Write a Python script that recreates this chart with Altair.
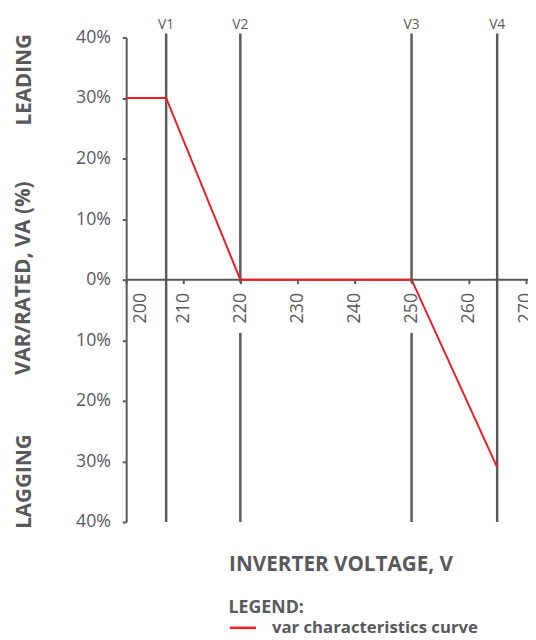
import altair as alt
import pandas as pd

# ---- data ----
volts = [200, 207, 220, 250, 265]
var_pct = [30, 30, 0, 0, -31]
v_names = ["V1", "V2", "V3", "V4"]
v_values = [207, 220, 250, 265]
x_ticks = [200, 210, 220, 230, 240, 250, 260, 270]
y_ticks = [-40, -30, -20, -10, 0, 10, 20, 30, 40]
series_name = ["var characteristics curve"]

GRAY = "#58595b"
RED = "#ed1c24"
FONT = "Open Sans"

W, H = 408, 492

curve = pd.DataFrame({"volt": volts, "var": var_pct, "series": series_name * len(volts)})
vlines = pd.DataFrame({"name": v_names, "v": v_values})
zero = pd.DataFrame({"y": [0]})

xscale = alt.Scale(domain=[200, 270.4], nice=False)
yscale = alt.Scale(domain=[-40, 40], nice=False)

x_axis = alt.Axis(
    values=x_ticks,
    orient="bottom",
    offset=-H / 2,
    domain=False,
    grid=False,
    ticks=True,
    tickSize=4,
    tickWidth=2,
    tickColor=GRAY,
    labelAngle=270,
    labelPadding=9,
    labelFont=FONT,
    labelFontSize=18,
    labelColor=GRAY,
    labelOffset={"condition": {"test": "datum.value == 200", "value": 15}, "value": 0},
    title="INVERTER VOLTAGE, V",
    titleFont=FONT,
    titleFontSize=21,
    titleFontWeight="bold",
    titleColor=GRAY,
    titleAlign="left",
    titleBaseline="middle",
    titleX=104,
    titleY=289,
    zindex=1,
)

y_axis = alt.Axis(
    values=y_ticks,
    labelExpr="abs(datum.value) + '%'",
    domainColor=GRAY,
    domainWidth=2,
    grid=False,
    tickColor=GRAY,
    tickWidth=2,
    tickSize=4,
    labelPadding=12,
    labelFont=FONT,
    labelFontSize=18,
    labelColor=GRAY,
    title="VAR/RATED, VA (%)",
    titleFont=FONT,
    titleFontSize=21,
    titleFontWeight="bold",
    titleColor=GRAY,
    titleAngle=270,
    titleAlign="center",
    titleBaseline="middle",
    titleX=-104,
    titleY=244,
)

# axis-owning layer drawn invisibly first (defines axes)
base_axes = alt.Chart(curve).mark_line(opacity=0).encode(
    x=alt.X("volt:Q", scale=xscale, axis=x_axis),
    y=alt.Y("var:Q", scale=yscale, axis=y_axis),
)

zero_rule = alt.Chart(zero).mark_rule(color=GRAY, strokeWidth=2).encode(
    y=alt.Y("y:Q", scale=yscale)
)

v_rules = alt.Chart(vlines).mark_rule(color=GRAY, strokeWidth=2.5).encode(
    x=alt.X("v:Q", scale=xscale),
    y=alt.value(-4),
    y2=alt.value(H),
)

mask = alt.Chart(vlines).transform_filter("datum.v % 10 == 0").mark_rule(
    color="white", strokeWidth=6
).encode(
    x=alt.X("v:Q", scale=xscale),
    y=alt.value(249),
    y2=alt.value(300),
)

v_labels = alt.Chart(vlines).mark_text(
    font=FONT, fontSize=14, color=GRAY, baseline="middle", align="center"
).encode(
    x=alt.X("v:Q", scale=xscale),
    y=alt.value(-13),
    text="name:N",
)

line = alt.Chart(curve).mark_line(strokeWidth=2).encode(
    x=alt.X("volt:Q", scale=xscale),
    y=alt.Y("var:Q", scale=yscale),
    color=alt.Color(
        "series:N",
        scale=alt.Scale(range=[RED]),
        legend=alt.Legend(
            title="LEGEND:",
            orient="none",
            legendX=104,
            legendY=570,
            symbolType="stroke",
            symbolStrokeWidth=2.5,
            symbolSize=700,
            labelFont=FONT,
            labelFontSize=17,
            labelFontWeight="bold",
            labelColor=GRAY,
            labelOffset=15,
            labelLimit=0,
            titleFont=FONT,
            titleFontSize=18,
            titleFontWeight="bold",
            titleColor=GRAY,
            titlePadding=-3,
        ),
    ),
)

leading = alt.Chart(zero).mark_text(
    font=FONT, fontSize=21, fontWeight="bold", color=GRAY, angle=270,
    align="center", baseline="middle"
).encode(x=alt.value(-103), y=alt.value(43), text=alt.value("LEADING"))

lagging = alt.Chart(zero).mark_text(
    font=FONT, fontSize=21, fontWeight="bold", color=GRAY, angle=270,
    align="center", baseline="middle"
).encode(x=alt.value(-103), y=alt.value(451), text=alt.value("LAGGING"))

chart = alt.layer(
    base_axes, zero_rule, v_rules, mask, v_labels, line, leading, lagging
).properties(
    width=W,
    height=H,
    autosize=alt.AutoSizeParams(type="none"),
    padding={"left": 120, "top": 25, "right": 0, "bottom": 115},
    background="white",
).configure_view(stroke=None)

chart.save("out.html", embed_options={"renderer": "svg", "actions": False})
